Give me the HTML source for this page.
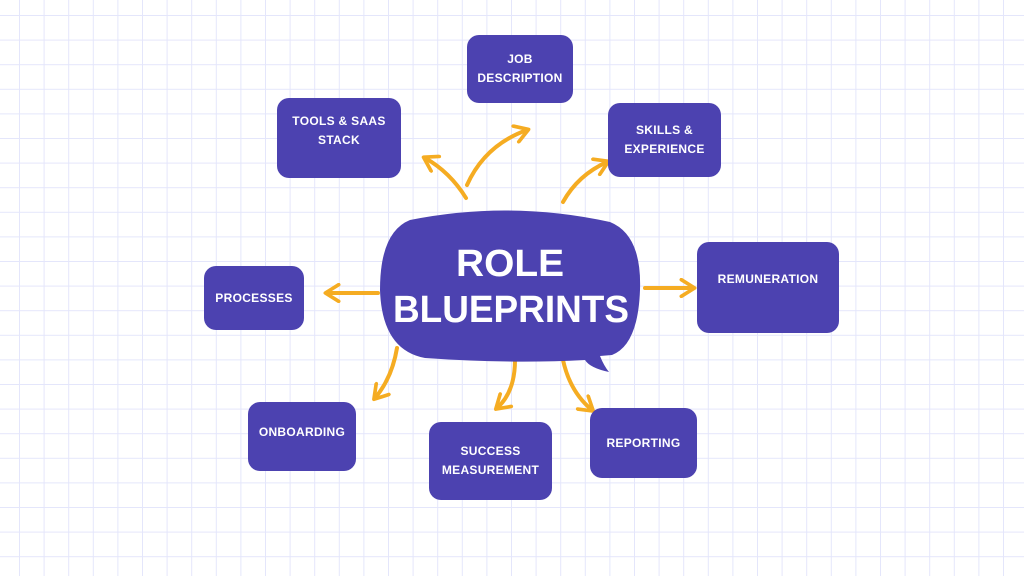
<!DOCTYPE html>
<html><head><meta charset="utf-8"><style>
html,body{margin:0;padding:0;background:#fff;}
body{width:1024px;height:576px;overflow:hidden;position:relative;font-family:"Comic Sans MS","Liberation Sans",sans-serif;}
svg{position:absolute;left:0;top:0;}
.b{position:absolute;background:#4c42b0;border-radius:12px;color:#fff;display:flex;align-items:center;justify-content:center;text-align:center;font-size:12px;font-weight:bold;line-height:19px;letter-spacing:0.3px;}
</style></head><body>
<svg width="1024" height="576">
<defs>
<pattern id="g" x="19" y="15" width="24.6" height="24.6" patternUnits="userSpaceOnUse">
<path d="M0 0V24.6M0 0H24.6" stroke="#e4e6fb" stroke-width="2" fill="none"/>
</pattern>
<marker id="a" viewBox="0 0 12 12" refX="9" refY="6" markerWidth="5" markerHeight="5" orient="auto" markerUnits="strokeWidth">
<path d="M2 1L10 6L2 11" stroke="#f5ac22" stroke-width="2.2" fill="none" stroke-linecap="round" stroke-linejoin="round"/>
</marker>
</defs>
<rect width="1024" height="576" fill="url(#g)"/>
<g stroke="#f5ac22" stroke-width="4" fill="none" stroke-linecap="round" marker-end="url(#a)">
<path d="M466 198Q450 172 425 158"/>
<path d="M467 185Q485 145 527 130"/>
<path d="M563 202Q578 175 607 162"/>
<path d="M378 293L327 293"/>
<path d="M645 288L693 288"/>
<path d="M397 348Q392 378 375 398"/>
<path d="M515 360Q515 392 497 408"/>
<path d="M563 360Q570 392 592 410"/>
</g>
<path d="M410 220Q510 200 610 222Q642 235 640 290Q638 345 612 355L600 356Q604 366 609 372Q590 368 585 360Q510 364 425 358Q382 350 380 290Q380 232 410 220Z" fill="#4c42b0"/>
<text x="510" y="276" fill="#fff" font-size="38" font-weight="bold" text-anchor="middle" font-family="Comic Sans MS, Liberation Sans, sans-serif" textLength="108" lengthAdjust="spacingAndGlyphs">ROLE</text>
<text x="511" y="322" fill="#fff" font-size="38" font-weight="bold" text-anchor="middle" font-family="Comic Sans MS, Liberation Sans, sans-serif" textLength="236" lengthAdjust="spacingAndGlyphs">BLUEPRINTS</text>
</svg>
<div class="b" style="left:467px;top:35px;width:106px;height:68px;">JOB<br>DESCRIPTION</div>
<div class="b" style="left:277px;top:98px;width:124px;height:80px;align-items:flex-start;padding-top:14px;box-sizing:border-box;">TOOLS &amp; SAAS<br>STACK</div>
<div class="b" style="left:608px;top:103px;width:113px;height:74px;">SKILLS &amp;<br>EXPERIENCE</div>
<div class="b" style="left:204px;top:266px;width:100px;height:64px;">PROCESSES</div>
<div class="b" style="left:697px;top:242px;width:142px;height:91px;align-items:flex-start;padding-top:28px;box-sizing:border-box;">REMUNERATION</div>
<div class="b" style="left:248px;top:402px;width:108px;height:69px;align-items:flex-start;padding-top:21px;box-sizing:border-box;">ONBOARDING</div>
<div class="b" style="left:429px;top:422px;width:123px;height:78px;">SUCCESS<br>MEASUREMENT</div>
<div class="b" style="left:590px;top:408px;width:107px;height:70px;">REPORTING</div>
</body></html>
